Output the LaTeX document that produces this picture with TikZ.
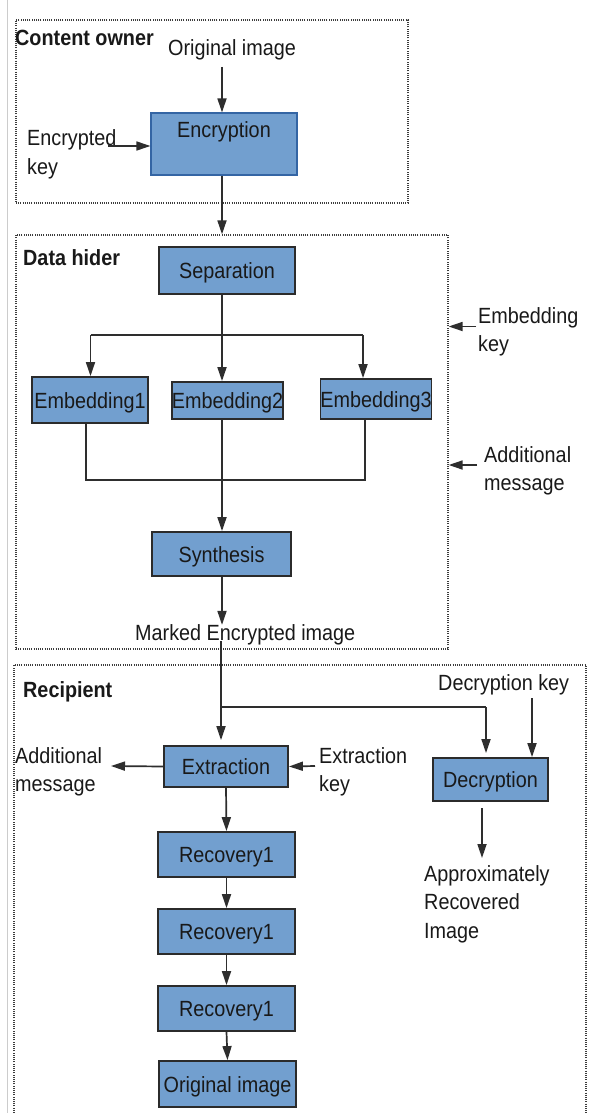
\documentclass[tikz,border=0pt]{standalone}
\usepackage{fontspec}
\setmainfont{Liberation Sans}[FakeStretch=0.9]
\usetikzlibrary{arrows.meta}
\definecolor{boxfill}{HTML}{729FCF}
\definecolor{boxedge}{HTML}{2B2B2B}
\definecolor{encedge}{HTML}{3465A4}
\definecolor{linec}{HTML}{2E2E2E}
\definecolor{dotc}{HTML}{3C3C3C}
\definecolor{pageedge}{HTML}{CCCCCC}
\newcommand\mlines[1]{\begin{tabular}[t]{@{}l@{}}#1\end{tabular}}
\begin{document}
\begin{tikzpicture}[x=1pt,y=-1pt,
  every node/.style={font=\fontsize{22pt}{28.5pt}\selectfont, text=black!90},
  txt/.style={anchor=base west, inner sep=0pt},
  grp/.style={draw=dotc, line width=1.3pt, dash pattern=on 1pt off 1.2pt, inner sep=0pt},
  blk/.style={draw=boxedge, fill=boxfill, line width=1.8pt, inner xsep=0pt, inner ysep=0pt, text height=16pt, text depth=0pt},
  ln/.style={draw=linec, line width=1.7pt},
  arr/.style={ln, -{Triangle[length=14pt,width=9pt]}},
]
\useasboundingbox (0,0) rectangle (590,1113);
\fill[white] (0,0) rectangle (590,1113);
\draw[pageedge, line width=1pt] (7,0) -- (7,1113);

% ---------- groups ----------
\node[grp, minimum width=392pt, minimum height=183pt] (co) at (212,111.5) {};
\node[grp, minimum width=432pt, minimum height=414pt] (dh) at (232,442) {};
\draw[grp] (14,1113) -- (14,665) -- (586,665) -- (586,1113);

% ---------- Content owner ----------
\node[txt] (colab) at (15,46) {\bfseries Content owner};
\node[txt] (oi) at (168,56) {Original image};
\node[blk, draw=encedge, line width=1.2pt, minimum width=146pt, minimum height=62pt, text height=25pt, text depth=37pt] (enc) at (224,144) {Encryption};
\node[txt] (ek) at (27,146) {\mlines{Encrypted\\key}};
\coordinate (oiend) at (222,67);
\coordinate (ekend) at (108,146);
\draw[arr] (oiend) -- (oiend |- enc.north);
\draw[arr] (ekend) -- (ekend -| enc.west);
\draw[arr] (enc.south -| oiend) -- (oiend |- dh.north);

% ---------- Data hider ----------
\node[txt] (dhlab) at (23,265) {\bfseries Data hider};
\node[blk, minimum width=136pt, minimum height=47pt] (sep) at (227,270.5) {Separation};
\node[blk, minimum width=116pt, minimum height=46pt] (emb1) at (90,400) {Embedding1};
\node[blk, minimum width=111pt, minimum height=37pt] (emb2) at (227.5,400.5) {Embedding2};
\node[blk, minimum width=110pt, minimum height=40pt] (emb3) at (376,399) {Embedding3};
\node[blk, minimum width=139pt, minimum height=44pt] (syn) at (221.5,554) {Synthesis};
\node[txt] (mei) at (135,640) {Marked Encrypted image};
\node[txt] (embk) at (478,323) {\mlines{Embedding\\key}};
\node[txt] (addm1) at (484,462) {\mlines{Additional\\message}};

\coordinate (split) at (222,335);
\coordinate (b1) at (90.5,335);
\coordinate (b3) at (363,335);
\draw[ln] (split |- sep.south) -- (split);
\draw[arr] (split) -- (split |- emb2.north);
\draw[ln] (b1) -- (b3);
\draw[arr] (b1) -- (b1 |- emb1.north);
\draw[arr] (b3) -- (b3 |- emb3.north);

\coordinate (m1) at (86,480);
\coordinate (merge) at (222,480);
\coordinate (m3) at (365,480);
\draw[ln] (m1 |- emb1.south) -- (m1) -- (m3) -- (m3 |- emb3.south);
\draw[ln] (merge |- emb2.south) -- (merge);
\draw[arr] (merge) -- (merge |- syn.north);
\draw[arr] (merge |- syn.south) -- ([yshift=-1pt]merge |- mei.north);

\coordinate (embkend) at (476,326.5);
\coordinate (addmend) at (477,465);
\draw[arr] (embkend) -- (embkend -| dh.east);
\draw[arr] (addmend) -- (addmend -| dh.east);

% ---------- Recipient ----------
\node[txt] (rclab) at (23,697) {\bfseries Recipient};
\node[txt] (dk) at (438,690) {Decryption key};
\node[blk, minimum width=124pt, minimum height=41pt] (ext) at (226,766.5) {Extraction};
\node[blk, minimum width=115pt, minimum height=43pt] (dec) at (490.5,779.5) {Decryption};
\node[blk, minimum width=137pt, minimum height=45pt] (rec1) at (226.5,854.5) {Recovery1};
\node[blk, minimum width=137pt, minimum height=45pt] (rec2) at (226.5,931.5) {Recovery1};
\node[blk, minimum width=137pt, minimum height=45pt] (rec3) at (226.5,1008.5) {Recovery1};
\node[blk, minimum width=137pt, minimum height=46pt] (orig) at (227.5,1084) {Original image};
\node[txt] (addm2) at (15,763) {\mlines{Additional\\message}};
\node[txt] (exk) at (319,763) {\mlines{Extraction\\key}};
\node[txt] (approx) at (424,881) {\mlines{Approximately\\Recovered\\Image}};

\coordinate (j) at (221,707);
\coordinate (j2) at (486,707);
\draw[ln] ([yshift=4pt]mei.south -| j) -- (j);
\draw[arr, shorten >=5pt] (j) -- (j |- ext.north);
\draw[ln] (j) -- (j2);
\draw[arr, shorten >=4pt] (j2) -- (j2 |- dec.north);
\coordinate (dkend) at (532,698);
\draw[arr] (dkend) -- (dkend |- dec.north);
\coordinate (decout) at (482,808);
\coordinate (apin) at (482,858);
\draw[arr] (decout) -- (apin);
\coordinate (am2end) at (111,766);
\coordinate (exkend) at (315,766);
\draw[arr] (ext.west) -- (am2end);
\draw[arr] (exkend) -- (ext.east);
\draw[arr] (ext.south) -- (rec1.north);
\draw[arr] (rec1.south) -- (rec2.north);
\draw[arr] (rec2.south) -- (rec3.north);
\draw[arr] (rec3.south) -- (orig.north);
\end{tikzpicture}
\end{document}
